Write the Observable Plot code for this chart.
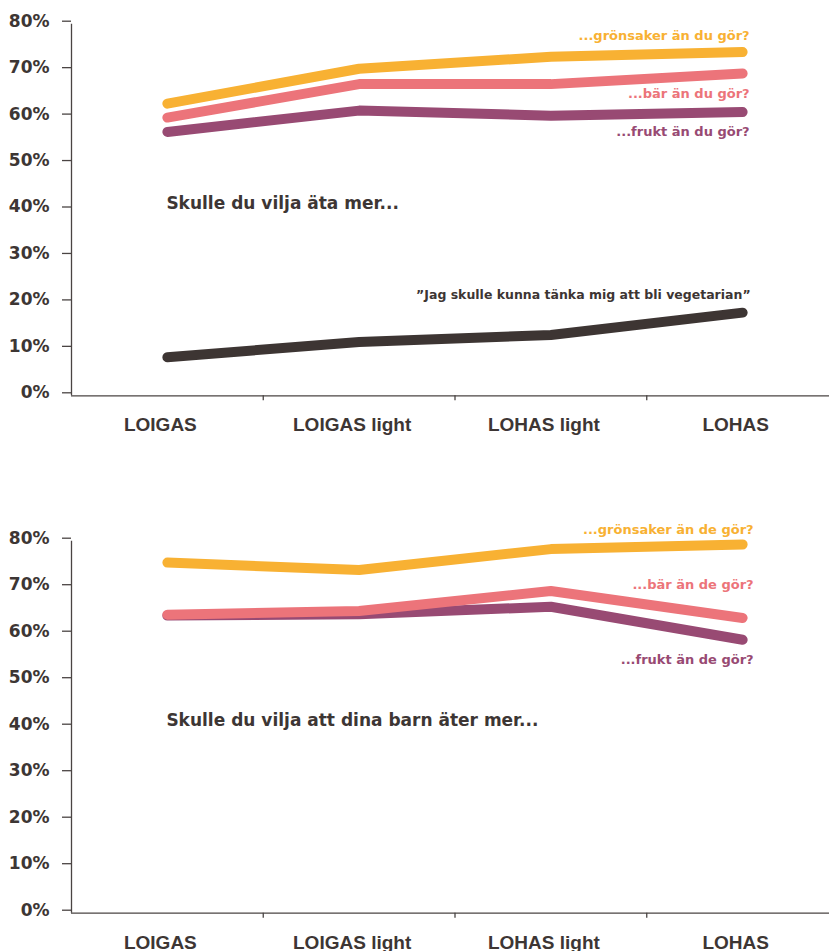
<!DOCTYPE html>
<html>
<head>
<meta charset="utf-8">
<script src="https://cdn.jsdelivr.net/npm/d3@7"></script>
<script src="https://cdn.jsdelivr.net/npm/@observablehq/plot@0.6"></script>
<style>
  html, body { margin: 0; padding: 0; background: #fff; }
  #chart svg { display: block; }
</style>
</head>
<body>
<div id="chart"></div>
<script>
const categories = ["LOIGAS", "LOIGAS light", "LOHAS light", "LOHAS"];
const yTicks = [0, 10, 20, 30, 40, 50, 60, 70, 80];

// Panel 1: "Skulle du vilja äta mer..."
const p1Title = "Skulle du vilja äta mer...";
const p1Gronsaker = [62.9, 70.4, 73.0, 74.0];
const p1Bar = [59.9, 67.1, 67.1, 69.4];
const p1Frukt = [56.8, 61.4, 60.3, 61.1];
const p1Vegetarian = [8.3, 11.6, 13.1, 17.9];
const p1Labels = ["...grönsaker än du gör?", "...bär än du gör?", "...frukt än du gör?", "”Jag skulle kunna tänka mig att bli vegetarian”"];

// Panel 2: "Skulle du vilja att dina barn äter mer..."
const p2Title = "Skulle du vilja att dina barn äter mer...";
const p2Gronsaker = [75.4, 73.8, 78.3, 79.3];
const p2Bar = [64.2, 65.0, 69.3, 63.5];
const p2Frukt = [64.0, 64.3, 65.9, 58.8];
const p2Labels = ["...grönsaker än de gör?", "...bär än de gör?", "...frukt än de gör?"];

const COL = {gron: "#F8B133", bar: "#EC747A", frukt: "#984A73", veg: "#3D3533"};
const INK = "#3D3634";
const AXIS = "#4A4443";

function series(values, key) {
  return values.map((v, i) => ({i, v, key}));
}

function makePanel({height, marginBottom, title, lines}) {
  const marks = [];
  marks.push(Plot.ruleX([-0.5], {stroke: AXIS, strokeWidth: 1.3}));
  marks.push(Plot.ruleY([0], {stroke: AXIS, strokeWidth: 1.3}));
  for (const L of lines) {
    marks.push(Plot.line(series(L.values, L.key), {
      x: "i", y: "v", stroke: L.color, strokeWidth: 10,
      strokeLinecap: "round", strokeLinejoin: "round", curve: "linear"
    }));
  }
  for (const L of lines) {
    const last = L.values.length - 1;
    marks.push(Plot.text([{i: last, v: L.values[last], t: L.label}], {
      x: "i", y: "v", text: "t", fill: L.color, textAnchor: "end",
      dx: L.dx, dy: L.dy, fontSize: L.fontSize, fontWeight: L.fontWeight,
      fontFamily: L.fontFamily
    }));
  }
  marks.push(Plot.text([title], {
    x: () => 0, frameAnchor: "top", textAnchor: "start", dx: -1, dy: title.dy,
    text: d => d.text, fill: INK, fontSize: 17, fontWeight: "bold",
    fontFamily: "DejaVu Sans"
  }));
  marks.push(Plot.axisY({
    ticks: yTicks, tickFormat: d => d + "%", tickSize: 9, tickPadding: 13,
    fontSize: 17, fontWeight: "bold", fontFamily: "DejaVu Sans", fill: INK,
    stroke: AXIS, strokeWidth: 1.3, dy: -3, label: null
  }));
  marks.push(Plot.axisX({
    ticks: categories.slice(1).map((_, k) => k + 0.5), tickSize: 5,
    tickFormat: () => "", stroke: AXIS, strokeWidth: 1.3, label: null
  }));
  marks.push(Plot.axisX({
    ticks: categories.map((_, k) => k), tickSize: 0, tickPadding: 22,
    tickFormat: k => categories[k], fontSize: 19, fontWeight: "bold",
    fontFamily: "Liberation Sans", fill: INK, dx: -7, label: null
  }));
  return Plot.plot({
    width: 829,
    height,
    marginLeft: 71,
    marginRight: 0,
    marginTop: 23.7,
    marginBottom,
    x: {type: "linear", domain: [-0.5, categories.length - 0.5], range: [71, 838], axis: null},
    y: {domain: [0, 80], axis: null},
    style: {background: "#fff", overflow: "visible"},
    marks
  });
}

const lblFont = {fontSize: 13, fontWeight: 600, fontFamily: "DejaVu Sans"};

const panel1 = makePanel({
  height: 517,
  marginBottom: 121.7,
  title: {text: p1Title, dy: 173},
  lines: [
    {key: "veg", values: p1Vegetarian, color: COL.veg, label: p1Labels[3], dx: 8, dy: -18, fontSize: 12.5, fontWeight: 600, fontFamily: "DejaVu Sans"},
    {key: "frukt", values: p1Frukt, color: COL.frukt, label: p1Labels[2], dx: 7, dy: 20, ...lblFont},
    {key: "bar", values: p1Bar, color: COL.bar, label: p1Labels[1], dx: 7, dy: 20, ...lblFont},
    {key: "gron", values: p1Gronsaker, color: COL.gron, label: p1Labels[0], dx: 7, dy: -16, ...lblFont}
  ]
});

const panel2 = makePanel({
  height: 434,
  marginBottom: 38.3,
  title: {text: p2Title, dy: 173},
  lines: [
    {key: "frukt", values: p2Frukt, color: COL.frukt, label: p2Labels[2], dx: 11, dy: 20, ...lblFont},
    {key: "bar", values: p2Bar, color: COL.bar, label: p2Labels[1], dx: 11, dy: -33, ...lblFont},
    {key: "gron", values: p2Gronsaker, color: COL.gron, label: p2Labels[0], dx: 11, dy: -15, ...lblFont}
  ]
});

document.getElementById("chart").append(panel1, panel2);
</script>
</body>
</html>
